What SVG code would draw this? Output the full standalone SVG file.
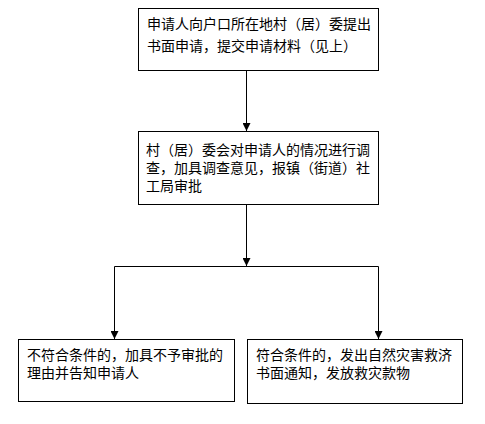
<svg xmlns="http://www.w3.org/2000/svg" width="485" height="424" viewBox="0 0 485 424">
<style>
.box{fill:#fff;stroke:#000;stroke-width:1}
.t{font-family:"Liberation Sans","Noto Sans CJK SC",sans-serif;font-size:14px;fill:#000}
.ln{fill:none;stroke:#000;stroke-width:1}
</style>
<defs>
<marker id="ah" viewBox="0 0 8 8" refX="8" refY="4" markerWidth="8" markerHeight="8" markerUnits="userSpaceOnUse" orient="auto">
<path d="M0,0 L8,4 L0,8 Z" fill="#000"/>
</marker>
</defs>
<rect width="485" height="424" fill="#fff"/>
<g id="connectors">
<line class="ln" x1="246.5" y1="70" x2="246.5" y2="131" marker-end="url(#ah)"/>
<line class="ln" x1="246.5" y1="204" x2="246.5" y2="266" marker-end="url(#ah)"/>
<polyline class="ln" points="114.5,339 114.5,266.5 378.5,266.5 378.5,339"/>
<line class="ln" x1="114.5" y1="300" x2="114.5" y2="339" marker-end="url(#ah)"/>
<line class="ln" x1="378.5" y1="300" x2="378.5" y2="339" marker-end="url(#ah)"/>
</g>
<g id="n1">
<rect class="box" x="138.5" y="8.5" width="240" height="62"/>
<text class="t" x="147" y="29">申请人向户口所在地村（居）委提出<tspan x="147" dy="22">书面申请，提交申请材料（见上）</tspan></text>
</g>
<g id="n2">
<rect class="box" x="138.5" y="131.5" width="240" height="73"/>
<text class="t" x="146" y="155">村（居）委会对申请人的情况进行调<tspan x="146" dy="18">查，加具调查意见，报镇（街道）社</tspan><tspan x="146" dy="18">工局审批</tspan></text>
</g>
<g id="n3">
<rect class="box" x="18.5" y="339.5" width="216" height="62"/>
<text class="t" x="27" y="360">不符合条件的，加具不予审批的<tspan x="27" dy="18">理由并告知申请人</tspan></text>
</g>
<g id="n4">
<rect class="box" x="247.5" y="339.5" width="215" height="64"/>
<text class="t" x="256" y="360">符合条件的，发出自然灾害救济<tspan x="256" dy="18">书面通知，发放救灾款物</tspan></text>
</g>
</svg>
